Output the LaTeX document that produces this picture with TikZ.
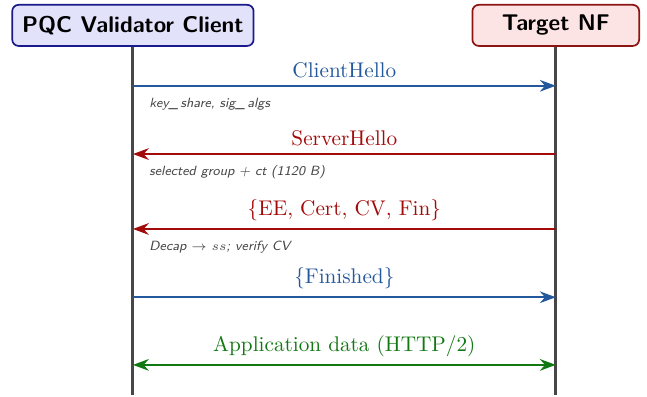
\documentclass[tikz,border=0pt]{standalone}
\usepackage{amsmath, amssymb}
\usepackage{xcolor}
\usepackage{tikz}
\usetikzlibrary{positioning, arrows.meta}
\definecolor{client_blue}{HTML}{24589C}
\definecolor{client_border}{HTML}{1A1A8C}
\definecolor{client_fill}{HTML}{E2E2FA}
\definecolor{nf_red}{HTML}{A30A0A}
\definecolor{nf_border}{HTML}{8E1414}
\definecolor{nf_fill}{HTML}{FDE4E4}
\definecolor{app_green}{HTML}{127812}

\begin{document}
\begin{tikzpicture}[
    actor/.style={draw, rounded corners=3pt, thick,
        font=\sffamily\bfseries\fontsize{10.7}{13}\selectfont,
        minimum height=0.68cm, minimum width=2.76cm, inner sep=4.7pt},
    lifeline/.style={black!72, line width=1.5pt},
    msg/.style={line width=0.9pt, -{Stealth[length=7.5pt, width=5.5pt]}},
    note/.style={font=\sffamily\itshape\fontsize{6.3}{7.5}\selectfont, text=black!72, anchor=west}
]
    \useasboundingbox (-2.2,0.42) rectangle (8.51,-6.15);

    % actors and lifelines
    \node[actor, draw=client_border, fill=client_fill] (client) at (0,0) {PQC Validator Client};
    \node[actor, draw=nf_border, fill=nf_fill] (nf) at (7,0) {Target NF};
    \coordinate (client_end) at (0,-6.12);
    \coordinate (nf_end) at (7,-6.12);
    \draw[lifeline] (client) -- (client_end);
    \draw[lifeline] (nf) -- (nf_end);

    \foreach \i/\y in {1/-1.0, 2/-2.13, 3/-3.37, 4/-4.5, 5/-5.62} {
        \coordinate (c\i) at (0,\y);
        \coordinate (n\i) at (7,\y);
    }

    % handshake
    \draw[msg, client_blue] (c1) -- (n1) node[midway, above] {ClientHello};
    \node[note, right=0.15cm of c1, yshift=-0.3cm] (note1) {key\_\,share, sig\_\,algs};

    \draw[msg, nf_red] (n2) -- (c2) node[midway, above] {ServerHello};
    \node[note, right=0.15cm of c2, yshift=-0.3cm] (note2) {selected group + ct (1120 B)};

    \draw[msg, nf_red] (n3) -- (c3) node[midway, above] {\{EE, Cert, CV, Fin\}};
    \node[note, right=0.15cm of c3, yshift=-0.3cm] (note3) {Decap $\rightarrow$ $ss$; verify CV};

    \draw[msg, client_blue] (c4) -- (n4) node[midway, above] {\{Finished\}};

    % application data
    \draw[line width=0.9pt, {Stealth[length=7.5pt, width=5.5pt]}-{Stealth[length=7.5pt, width=5.5pt]}, app_green]
        (c5) -- (n5) node[midway, above] {Application data (HTTP/2)};

\end{tikzpicture}
\end{document}
